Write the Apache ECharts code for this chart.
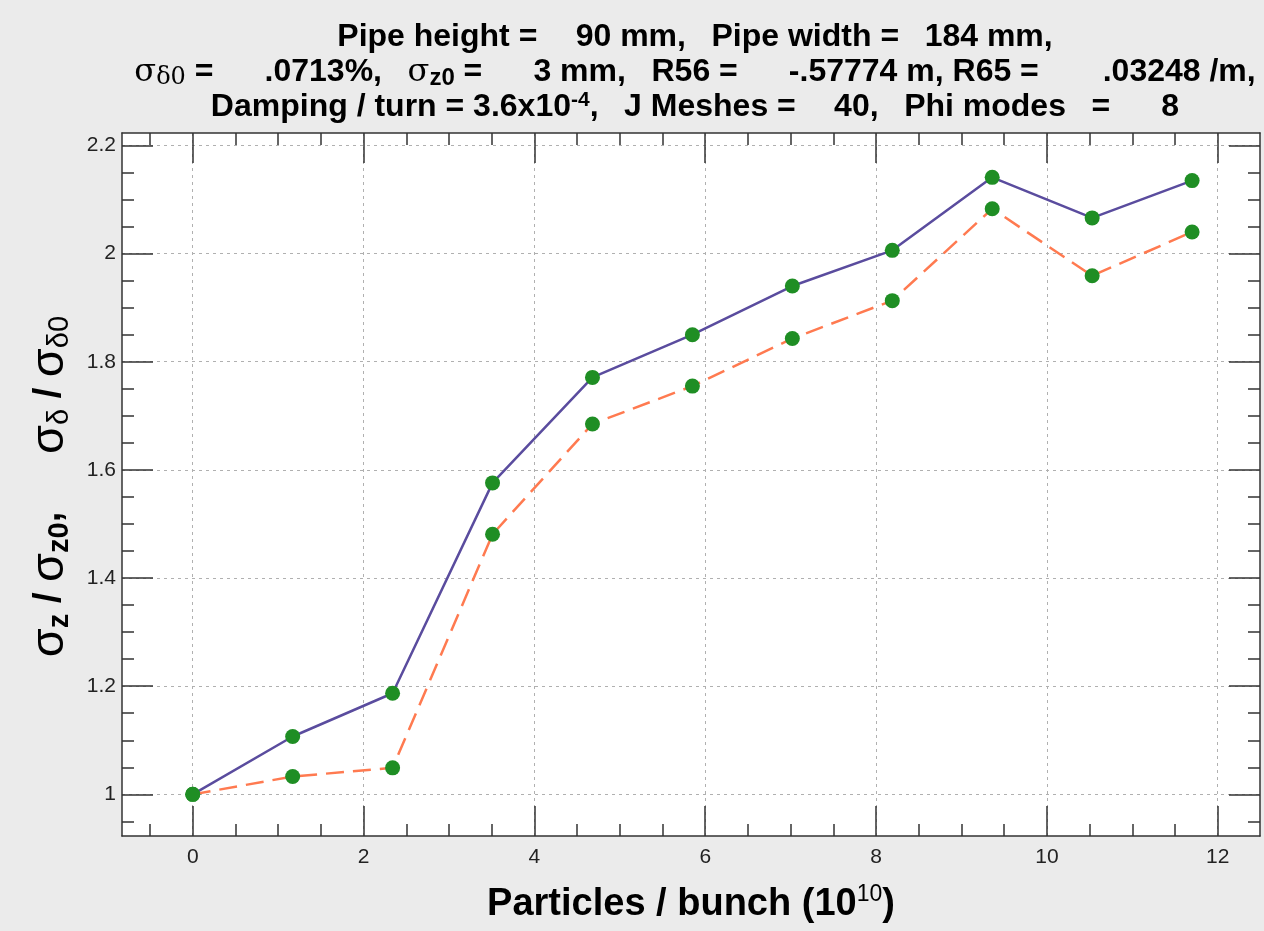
<!DOCTYPE html>
<html>
<head>
<meta charset="utf-8">
<script src="https://cdn.jsdelivr.net/npm/echarts@6/dist/echarts.min.js"></script>
<style>
html,body{margin:0;padding:0;background:#ebebeb;}
#chart{width:1264px;height:931px;}
</style>
</head>
<body>
<div id="chart"></div>
<script>
// ---- data ----
const particles = [0, 1.17, 2.34, 3.51, 4.68, 5.85, 7.02, 8.19, 9.36, 10.53, 11.7];
const sigmaZRatio = [1.0, 1.107, 1.187, 1.576, 1.771, 1.850, 1.940, 2.006, 2.141, 2.066, 2.135];
const sigmaDeltaRatio = [1.0, 1.033, 1.049, 1.481, 1.685, 1.755, 1.843, 1.913, 2.083, 1.959, 2.040];
const xMajorTicks = [0, 2, 4, 6, 8, 10, 12];
const xMinorTicks = [-0.5, 0.5, 1, 1.5, 2.5, 3, 3.5, 4.5, 5, 5.5, 6.5, 7, 7.5, 8.5, 9, 9.5, 10.5, 11, 11.5, 12.5];
const yMajorTicks = [1, 1.2, 1.4, 1.6, 1.8, 2, 2.2];
const yMinorTicks = [0.95, 1.05, 1.1, 1.15, 1.25, 1.3, 1.35, 1.45, 1.5, 1.55, 1.65, 1.7, 1.75, 1.85, 1.9, 1.95, 2.05, 2.1, 2.15];

const X_MIN = -0.828, X_MAX = 12.495;
const Y_MIN = 0.923, Y_MAX = 2.223;

const axisColor = '#333';
const labelFont = 'Liberation Sans, Arial, sans-serif';

function pair(data) { return particles.map((x, i) => [x, data[i]]); }
// wrap plain text in a rich style; runs of several spaces become wider spaces
function T(s, style) {
  style = style || 't';
  return ('{' + style + '|' + s.replace(/( {2,})/g, '}{w|$1}{' + style + '|') + '}').replace(/\{t\|\}/g, '');
}

function xAxisDef(position, major, showLabel) {
  return {
    type: 'value', min: X_MIN, max: X_MAX, position: position,
    axisLine: { show: major, onZero: false, lineStyle: { color: axisColor, width: 1.5 } },
    axisTick: { show: true, inside: true, length: major ? 30 : 12,
      customValues: major ? xMajorTicks : xMinorTicks,
      lineStyle: { color: axisColor, width: 1.5 } },
    axisLabel: { show: showLabel, customValues: xMajorTicks, color: '#222', fontSize: 21,
      fontFamily: labelFont, margin: 11 },
    splitLine: { show: major && showLabel, lineStyle: { color: '#b0b0b0', type: [3, 4], width: 1 } }
  };
}
function yAxisDef(position, major, showLabel) {
  return {
    type: 'value', min: Y_MIN, max: Y_MAX, position: position,
    axisLine: { show: major, onZero: false, lineStyle: { color: axisColor, width: 1.5 } },
    axisTick: { show: true, inside: true, length: major ? 31 : 12,
      customValues: major ? yMajorTicks : yMinorTicks,
      lineStyle: { color: axisColor, width: 1.5 } },
    axisLabel: { show: showLabel, customValues: yMajorTicks, color: '#222', fontSize: 21,
      fontFamily: labelFont, margin: 6 },
    splitLine: { show: major && showLabel, lineStyle: { color: '#b0b0b0', type: [3, 4], width: 1 } }
  };
}

const xAxes = [
  xAxisDef('bottom', true, true),
  xAxisDef('top', true, false),
  xAxisDef('bottom', false, false),
  xAxisDef('top', false, false)
];
xAxes[0].name = '{t|Particles / bunch (10}{sup|10}{t|)}';
xAxes[0].nameLocation = 'middle';
xAxes[0].nameGap = 47;
xAxes[0].nameTextStyle = {
  rich: {
    t: { fontSize: 38, fontWeight: 'bold', color: '#000', fontFamily: labelFont, lineHeight: 44 },
    sup: { fontSize: 23, fontWeight: 'normal', color: '#000', fontFamily: labelFont, lineHeight: 24, verticalAlign: 'top' }
  }
};
const yAxes = [
  yAxisDef('left', true, true),
  yAxisDef('right', true, false),
  yAxisDef('left', false, false),
  yAxisDef('right', false, false)
];
yAxes[0].name = '{s|σ}{zb|z}{t| / }{s|σ}{zb|z0}{t|,}{w|    }{s|σ}{d|δ}{t| / }{s|σ}{d|δ0}';
yAxes[0].nameLocation = 'middle';
yAxes[0].nameRotate = 90;
yAxes[0].nameGap = 47;
yAxes[0].nameTextStyle = {
  padding: [0, 4, 0, 0],
  rich: {
    t: { fontSize: 38, fontWeight: 'bold', color: '#000', fontFamily: labelFont, lineHeight: 50 },
    w: { fontSize: 52, fontWeight: 'bold', fontFamily: labelFont, lineHeight: 10 },
    s: { fontSize: 47, fontWeight: 'normal', color: '#000', fontFamily: labelFont, lineHeight: 50 },
    zb: { fontSize: 29, fontWeight: 'bold', color: '#000', fontFamily: labelFont, lineHeight: 32, verticalAlign: 'bottom' },
    d: { fontSize: 29, fontWeight: 'normal', color: '#000', fontFamily: labelFont, lineHeight: 32, verticalAlign: 'bottom' }
  }
};

const titleLine1 = T('Pipe height =   90 mm,  Pipe width =  184 mm,');
const titleLine2 = '{s|σ}{d|δ0}' + T(' =    .0713%,  ') + '{s|σ}{zb|z0}' + T(' =    3 mm,  R56 =    -.57774 m, R65 =     .03248 /m,');
const titleLine3 = T('Damping / turn = 3.6x10') + '{sup|-4}' + T(',  J Meshes =   40,  Phi modes  =    8');

const option = {
  backgroundColor: '#ebebeb',
  animation: false,
  title: {
    left: 690, top: 15, textAlign: 'center',
    text: titleLine1 + '\n' + titleLine2 + '\n' + titleLine3,
    textStyle: {
      rich: {
        t: { fontSize: 32, fontWeight: 'bold', color: '#000', fontFamily: labelFont, lineHeight: 35 },
        w: { fontSize: 46, fontWeight: 'bold', fontFamily: labelFont, lineHeight: 10 },
        s: { fontSize: 32, fontWeight: 'normal', color: '#000', fontFamily: 'DejaVu Serif, serif', lineHeight: 35 },
        d: { fontSize: 24, fontWeight: 'normal', color: '#000', fontFamily: 'DejaVu Serif, serif', lineHeight: 22, verticalAlign: 'bottom' },
        zb: { fontSize: 24, fontWeight: 'bold', color: '#000', fontFamily: labelFont, lineHeight: 22, verticalAlign: 'bottom' },
        sup: { fontSize: 21, fontWeight: 'bold', color: '#000', fontFamily: labelFont, lineHeight: 20, verticalAlign: 'top' }
      }
    }
  },
  grid: { left: 122, right: 4, top: 133, bottom: 95, outerBoundsMode: 'none', containLabel: false,
          show: true, backgroundColor: '#ffffff', borderWidth: 0 },
  xAxis: xAxes,
  yAxis: yAxes,
  series: [
    {
      type: 'line', xAxisIndex: 0, yAxisIndex: 0, data: pair(sigmaZRatio),
      symbol: 'circle', symbolSize: 15,
      lineStyle: { color: '#5a4c9e', width: 2.5 },
      itemStyle: { color: '#1f8e24' }, z: 3
    },
    {
      type: 'line', xAxisIndex: 0, yAxisIndex: 0, data: pair(sigmaDeltaRatio),
      symbol: 'circle', symbolSize: 15,
      lineStyle: { color: '#ff7a50', width: 2.5, type: [18, 9] },
      itemStyle: { color: '#1f8e24' }, z: 3
    }
  ]
};
const chart = echarts.init(document.getElementById('chart'), null, { renderer: 'canvas' });
chart.setOption(option);
</script>
</body>
</html>
